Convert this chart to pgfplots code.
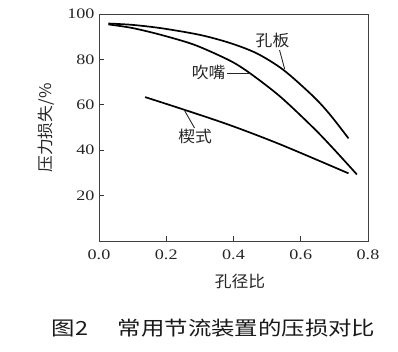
\documentclass[border=0pt]{standalone}
\usepackage{pgfplots}
\pgfplotsset{compat=1.18}
\usepackage{fontspec}
\setmainfont{Liberation Serif}
\newfontfamily\numfont[FakeStretch=1.25]{Liberation Serif}
\newfontfamily\cjk[FakeStretch=1.05]{Noto Sans CJK SC}
\newfontfamily\capfont[FakeStretch=1.2]{Noto Sans CJK SC}
\begin{document}
\begin{tikzpicture}[x=1pt,y=1pt]
\useasboundingbox (-99,-111) rectangle (299,241);
\begin{axis}[
  at={(0,0)}, anchor=south west,
  scale only axis, width=269pt, height=227pt,
  xmin=0, xmax=0.8, ymin=0, ymax=100,
  xtick={0,0.2,0.4,0.6,0.8},
  ytick={20,40,60,80,100},
  xticklabels={0.0,0.2,0.4,0.6,0.8},
  xtick pos=bottom, ytick pos=left,
  tick align=inside,
  major tick length=5pt,
  axis line style={draw=black!75, line width=0.9pt},
  tick style={black!80, line width=0.9pt},
  /pgf/number format/assume math mode=true,
  tick label style={font=\numfont\fontsize{14.5}{15}\selectfont, text=black!85},
  xticklabel style={yshift=-5pt},
  yticklabel style={xshift=-1pt},
  clip=false,
]
\addplot[black, line width=1.7pt, smooth] coordinates {
(0.028,95.8) (0.1,95.2) (0.187,93.7) (0.3,90.8) (0.39,87.2) (0.47,82.6) (0.549,75.3) (0.638,63.6) (0.688,55.5) (0.742,45.2)};
\addplot[black, line width=1.7pt, smooth] coordinates {
(0.028,95.4) (0.1,93.8) (0.187,90.7) (0.286,86.3) (0.39,79.4) (0.449,73.9) (0.539,63.6) (0.638,49.8) (0.7,40.2) (0.767,29.3)};
\addplot[black, line width=1.7pt, smooth] coordinates {
(0.137,63.4) (0.256,57.7) (0.39,51) (0.54,42.5) (0.742,29.8)};
\node[font=\cjk\fontsize{16}{16}\selectfont, text=black!85] at (axis cs:0.516,88.2) {孔板};
\draw[black!85, line width=0.9pt] (axis cs:0.537,84.1) -- (axis cs:0.552,75.8);
\node[font=\cjk\fontsize{16}{16}\selectfont, text=black!85] at (axis cs:0.326,74.3) {吹嘴};
\draw[black!85, line width=0.9pt] (axis cs:0.38,73.9) -- (axis cs:0.449,73.9);
\node[font=\cjk\fontsize{16}{16}\selectfont, text=black!85] at (axis cs:0.286,45.9) {楔式};
\draw[black!85, line width=0.9pt] (axis cs:0.254,57.6) -- (axis cs:0.284,49.8);
\end{axis}
\node[rotate=90, font=\cjk\fontsize{16}{16}\selectfont, text=black!85] at (-53,113) {压力损失/\%};
\node[font=\cjk\fontsize{16}{16}\selectfont, text=black!85] at (141,-40) {孔径比};
\node[font=\capfont\fontsize{19.5}{20}\selectfont, text=black!90] at (114.5,-87) {图2\hspace{30pt}常用节流装置的压损对比};
\end{tikzpicture}
\end{document}
